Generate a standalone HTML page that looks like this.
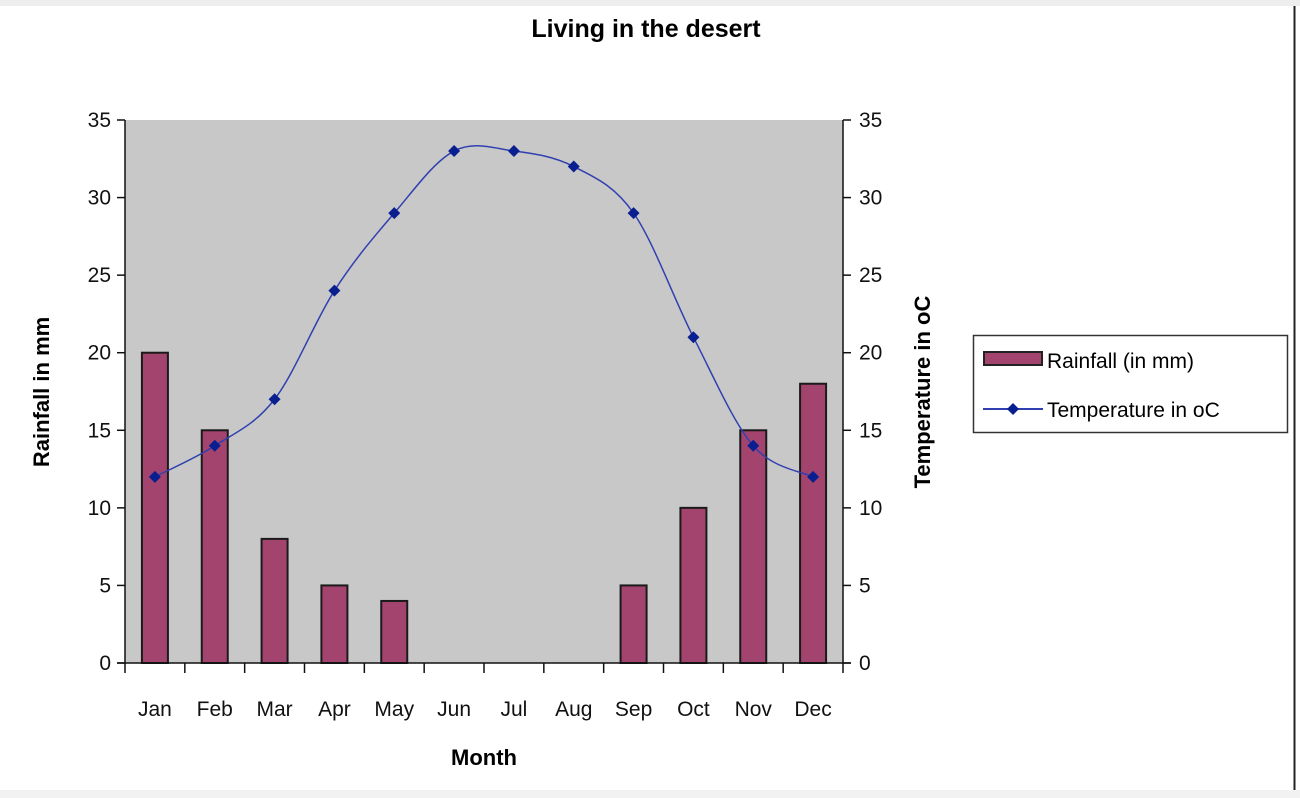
<!DOCTYPE html>
<html><head><meta charset="utf-8"><style>
body{margin:0;background:#fff;}
svg{display:block;font-family:"Liberation Sans",Arial,sans-serif;}
</style></head><body>
<svg width="1300" height="798">
<rect x="0" y="0" width="1300" height="798" fill="#fff"/>
<rect x="0" y="0" width="1300" height="6" fill="#eeeeee"/>
<rect x="0" y="790" width="1300" height="8" fill="#f2f2f2"/>
<line x1="1294.5" y1="6" x2="1294.5" y2="790" stroke="#222" stroke-width="2"/>
<text x="646" y="37" text-anchor="middle" font-size="25" font-weight="bold">Living in the desert</text>
<rect x="125" y="120" width="718" height="543" fill="#c8c8c8"/>
<g id="bars"></g><g id="line"></g><g id="axes"></g>
<text transform="translate(49,392) rotate(-90)" text-anchor="middle" font-size="22" font-weight="bold">Rainfall in mm</text>
<text transform="translate(930,392) rotate(-90)" text-anchor="middle" font-size="22" font-weight="bold">Temperature in oC</text>
<text x="484" y="765" text-anchor="middle" font-size="22" font-weight="bold">Month</text>
<g>
<rect x="973.5" y="335.5" width="314" height="97" fill="#fff" stroke="#333" stroke-width="1.5"/>
<rect x="984" y="352" width="58" height="13" fill="#a3446f" stroke="#222" stroke-width="2"/>
<text x="1047" y="368" font-size="21">Rainfall (in mm)</text>
<line x1="983" y1="409" x2="1043" y2="409" stroke="#3040b0" stroke-width="2"/>
<path d="M1013 403 L1019 409 L1013 415 L1007 409Z" fill="#0a1f8f"/>
<text x="1047" y="417" font-size="21">Temperature in oC</text>
</g>
</svg>
<script>
const months=["Jan","Feb","Mar","Apr","May","Jun","Jul","Aug","Sep","Oct","Nov","Dec"];
const rainfall=[20,15,8,5,4,0,0,0,5,10,15,18];
const temperature=[12,14,17,24,29,33,33,32,29,21,14,12];
const yTicks=[0,5,10,15,20,25,30,35];
const NS="http://www.w3.org/2000/svg";
const x0=125,x1=843,yTop=120,yBot=663,yMax=35;
const bw=(x1-x0)/months.length;
const xc=i=>x0+bw*(i+0.5);
const y=v=>yBot-(v/yMax)*(yBot-yTop);
function mk(tag,attrs,parent){const e=document.createElementNS(NS,tag);for(const k in attrs)e.setAttribute(k,attrs[k]);parent.appendChild(e);return e;}
const gb=document.getElementById('bars'),gl=document.getElementById('line'),ga=document.getElementById('axes');
rainfall.forEach((v,i)=>{if(v<=0)return;
 const r=mk('rect',{x:xc(i)-13,y:y(v),width:26,height:yBot-y(v),fill:'#a3446f',stroke:'#1a1a1a','stroke-width':2},gb);
 
 });
const pts=temperature.map((v,i)=>[xc(i),y(v)]);
let d='M'+pts[0][0]+' '+pts[0][1];
for(let i=0;i<pts.length-1;i++){
 const p0=pts[Math.max(0,i-1)],p1=pts[i],p2=pts[i+1],p3=pts[Math.min(pts.length-1,i+2)];
 const t=0.5/3;
 d+=` C${p1[0]+(p2[0]-p0[0])*t} ${p1[1]+(p2[1]-p0[1])*t} ${p2[0]-(p3[0]-p1[0])*t} ${p2[1]-(p3[1]-p1[1])*t} ${p2[0]} ${p2[1]}`;
}
const ln=mk('path',{d:d,fill:'none',stroke:'#3040b0','stroke-width':1.5},gl);


temperature.forEach((v,i)=>{const p=mk('path',{d:`M${xc(i)} ${y(v)-6}L${xc(i)+6} ${y(v)}L${xc(i)} ${y(v)+6}L${xc(i)-6} ${y(v)}Z`,fill:'#0a1f8f'},gl);
 
 });
mk('line',{x1:x0,y1:yTop,x2:x0,y2:yBot+1,stroke:'#111','stroke-width':1.5},ga);
mk('line',{x1:x1,y1:yTop,x2:x1,y2:yBot+1,stroke:'#111','stroke-width':1.5},ga);
mk('line',{x1:x0-8,y1:yBot,x2:x1+8,y2:yBot,stroke:'#111','stroke-width':1.5},ga);
yTicks.forEach(t=>{
 mk('line',{x1:x0-8,y1:y(t),x2:x0,y2:y(t),stroke:'#111','stroke-width':1.5},ga);
 mk('line',{x1:x1,y1:y(t),x2:x1+8,y2:y(t),stroke:'#111','stroke-width':1.5},ga);
 const a=mk('text',{x:x0-14,y:y(t)+7,'text-anchor':'end','font-size':21,fill:'#111'},ga);a.textContent=t;
 
 
 const b=mk('text',{x:x1+16,y:y(t)+7,'font-size':21,fill:'#111'},ga);b.textContent=t;
 
 });
for(let i=0;i<=months.length;i++)mk('line',{x1:x0+bw*i,y1:yBot,x2:x0+bw*i,y2:yBot+10,stroke:'#111','stroke-width':1.5},ga);
months.forEach((m,i)=>{const t=mk('text',{x:xc(i),y:716,'text-anchor':'middle','font-size':21,fill:'#111'},ga);t.textContent=m;
 
 });
</script>
</body></html>
